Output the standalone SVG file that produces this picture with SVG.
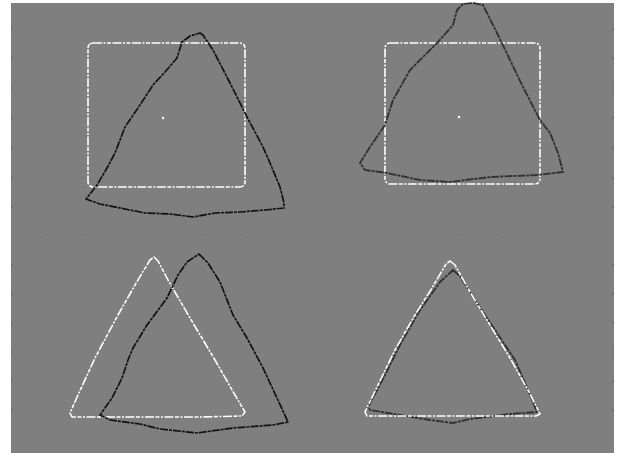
<svg xmlns="http://www.w3.org/2000/svg" width="620" height="453" viewBox="0 0 620 453">
<style>
.w{fill:none;stroke:#ffffff;stroke-width:1.6;stroke-dasharray:9 1.5 2 1.5 4 1.5;stroke-linejoin:round}
.k{fill:none;stroke:#111111;stroke-width:1.7;stroke-dasharray:8 1 3 1;stroke-linejoin:round}
.d{fill:none;stroke:#333333;stroke-width:1.9;stroke-dasharray:8 1 3 1;stroke-linejoin:round}
.t{stroke:#606060;stroke-width:1}
.c{fill:#ffffff}
</style>
<rect x="0" y="0" width="620" height="453" fill="#ffffff"/>
<rect x="11" y="3" width="603" height="450" fill="#7f7f7f"/>
<g id="ticks">
<path class="t" d="M11 29h2M11 58h2M11 88h2M11 118h2M11 148h2M11 178h2M11 207h2M11 265h2M11 294h2M11 323h2M11 352h2M11 381h2M11 410h2M612 29h2M612 58h2M612 88h2M612 118h2M612 148h2M612 178h2M612 207h2M612 265h2M612 294h2M612 323h2M612 352h2M612 381h2M612 410h2"/>
<path class="t" d="M46 234h1M85 234h1M124 234h1M163 234h1M202 234h1M241 234h1M280 234h1M340 234h1M380 234h1M419 234h1M458 234h1M497 234h1M536 234h1M575 234h1"/>
</g>
<g id="panel-top-left">
<rect class="w" x="88" y="43" width="157" height="144" rx="5"/>
<circle class="c" cx="163" cy="118" r="1.2"/>
<path class="k" d="M200 33 L203 35 L213 50 L230 83 L247 117 L263 147 L270 163 L280 187 L284 203 L284 208 L265 210 L240 212 L215 213 L193 217 L170 214 L145 213 L130 210 L100 204 L86 199 L97 185 L107 168 L115 153 L120 140 L125 127 L140 105 L153 85 L165 72 L177 58 L182 42 L190 36 Z"/>
</g>
<g id="panel-top-right">
<rect class="w" x="385" y="43" width="155" height="141" rx="5"/>
<circle class="c" cx="459" cy="117" r="1.2"/>
<path class="d" d="M473 3 L483 5 L497 33 L510 60 L523 87 L540 120 L550 133 L558 153 L563 172 L537 175 L490 177 L450 182 L420 180 L387 173 L365 170 L360 163 L370 147 L385 125 L393 100 L410 70 L437 43 L453 25 L457 10 L463 4 Z"/>
</g>
<g id="panel-bottom-left">
<path class="w" d="M154 257 L158 261 L168 280 L190 318 L215 360 L235 395 L245 412 L242 416 L200 417 L130 417 L72 417 L70 413 L78 395 L95 358 L118 315 L135 285 L150 260 Z"/>
<path class="k" d="M199 254 L208 263 L220 282 L233 315 L247 338 L263 368 L277 398 L288 422 L273 425 L233 428 L197 433 L160 429 L140 424 L110 420 L100 415 L112 398 L122 378 L128 360 L133 348 L147 325 L167 298 L178 275 L187 262 Z"/>
</g>
<g id="panel-bottom-right">
<path class="d" d="M453 270 L460 276 L475 300 L495 330 L515 360 L528 390 L537 412 L510 414 L470 419 L453 423 L430 420 L400 415 L370 410 L368 407 L385 375 L400 345 L420 310 L440 282 Z"/>
<path class="w" d="M450 261 L455 265 L470 292 L490 325 L510 358 L528 390 L540 414 L536 416 L490 416 L450 416 L400 416 L367 416 L365 412 L378 385 L395 350 L415 315 L432 288 L446 264 Z"/>
</g>
</svg>
